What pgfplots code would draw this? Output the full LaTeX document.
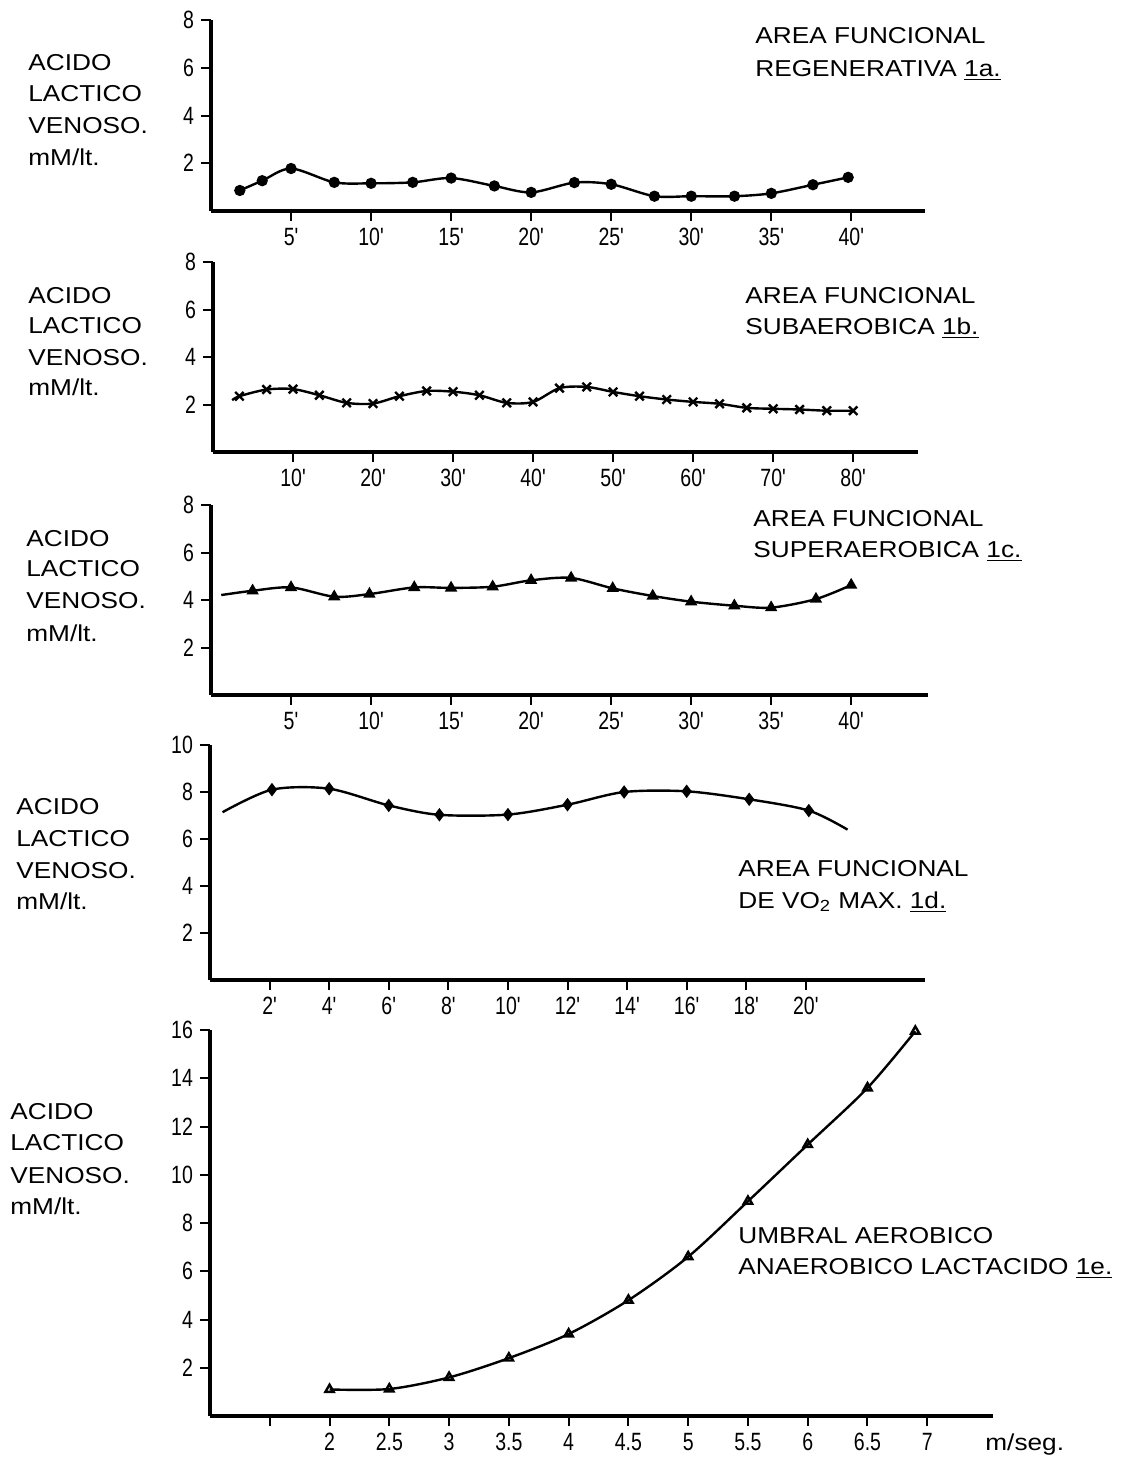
\documentclass[border=0pt]{standalone}
\usepackage{pgfplots}
\pgfplotsset{compat=1.18}
\usepackage{fontspec}
\setmainfont{Liberation Sans}[FakeStretch=1.14]
\newfontfamily\tickfont{Liberation Sans}[FakeStretch=0.78]
\newcommand{\lbl}[3]{\node[anchor=base west, inner sep=0pt] at (#1pt,#2pt) {#3};}
\pgfplotsset{
  panel/.style={
    anchor=south west, scale only axis,
    axis lines*=left,
    axis line style={line width=1.6pt, black},
    tick align=outside, major tick length=5pt,
    tick style={line width=1pt, black},
    ymin=0,
    ticklabel style={font=\tickfont\fontsize{12.5}{12.5}\selectfont, black},
    clip=false,
    every axis plot/.append style={line width=1.2pt, black},
  }
}
\begin{document}
\begin{tikzpicture}
\useasboundingbox (0,0) rectangle (562pt,-729pt);
\tikzset{every node/.append style={font=\fontsize{11.5}{14}\selectfont}}
% ---------- Panel 1a ----------
\begin{axis}[panel, at={(105.5pt,-105.5pt)}, width=357pt, height=95.5pt,
  xmin=0, xmax=44.6, ymax=8,
  xtick={5,10,15,20,25,30,35,40},
  xticklabels={5',10',15',20',25',30',35',40'},
  ytick={2,4,6,8}, yticklabels={2,4,6,8}]
\addplot[smooth, mark=*, mark size=2.2pt] coordinates {
(1.8,0.86) (3.2,1.27) (5,1.78) (7.7,1.2) (10,1.16) (12.6,1.2) (15,1.38) (17.7,1.05)
(20,0.78) (22.7,1.19) (25,1.12) (27.7,0.62) (30,0.62) (32.7,0.62) (35,0.74) (37.6,1.1) (39.8,1.41)};
\end{axis}
% ---------- Panel 1b ----------
\begin{axis}[panel, at={(106.5pt,-226pt)}, width=352.5pt, height=95pt,
  xmin=0, xmax=88.1, ymax=8,
  xtick={10,20,30,40,50,60,70,80},
  xticklabels={10',20',30',40',50',60',70',80'},
  ytick={2,4,6,8}, yticklabels={2,4,6,8}]
\addplot[smooth, mark=x, mark size=3pt, mark indices={2,...,25}] coordinates {
(2.4,2.18) (3.3,2.35) (6.7,2.63) (10,2.65) (13.3,2.39) (16.7,2.07) (20,2.04) (23.3,2.35)
(26.7,2.57) (30,2.54) (33.3,2.39) (36.7,2.07) (40,2.11) (43.3,2.69) (46.7,2.74) (50,2.53)
(53.3,2.35) (56.7,2.21) (60,2.11) (63.3,2.03) (66.7,1.86) (70,1.82) (73.3,1.79) (76.7,1.74) (80,1.74)};
\end{axis}
% ---------- Panel 1c ----------
\begin{axis}[panel, at={(105.5pt,-347.5pt)}, width=358.5pt, height=95pt,
  xmin=0, xmax=44.8, ymax=8,
  xtick={5,10,15,20,25,30,35,40},
  xticklabels={5',10',15',20',25',30',35',40'},
  ytick={2,4,6,8}, yticklabels={2,4,6,8}]
\addplot[smooth, mark=triangle*, mark size=2.4pt, mark indices={2,...,17}] coordinates {
(0.64,4.21) (2.6,4.39) (5,4.53) (7.7,4.14) (9.9,4.25) (12.7,4.53) (15,4.51) (17.6,4.56)
(20,4.83) (22.5,4.93) (25.1,4.49) (27.6,4.17) (30,3.93) (32.7,3.76) (35,3.68) (37.8,4.04) (40,4.63)};
\end{axis}
% ---------- Panel 1d ----------
\begin{axis}[panel, at={(105pt,-490pt)}, width=357.5pt, height=117.5pt,
  xmin=0, xmax=24, ymax=10,
  xtick={2,4,6,8,10,12,14,16,18,20},
  xticklabels={2',4',6',8',10',12',14',16',18',20'},
  ytick={2,4,6,8,10}, yticklabels={2,4,6,8,10}]
\addplot[smooth, mark=diamond*, mark size=2.4pt, mark indices={2,...,11}] coordinates {
(0.42,7.14) (2.08,8.1) (4,8.14) (6,7.43) (7.7,7.03) (10,7.04) (12,7.46) (13.9,8.0)
(16,8.03) (18.1,7.69) (20.1,7.21) (21.4,6.4)};
\end{axis}
% ---------- Panel 1e ----------
\begin{axis}[panel, at={(105pt,-708pt)}, width=391.5pt, height=193pt,
  xmin=1, xmax=7.55, ymax=16,
  xtick={1.5,2,2.5,3,3.5,4,4.5,5,5.5,6,6.5,7},
  xticklabels={,2,2.5,3,3.5,4,4.5,5,5.5,6,6.5,7},
  ytick={2,4,6,8,10,12,14,16}, yticklabels={2,4,6,8,10,12,14,16}]
\addplot[smooth, mark=triangle, mark size=2.4pt] coordinates {
(2,1.1) (2.5,1.12) (3,1.6) (3.5,2.4) (4,3.4) (4.5,4.8) (5,6.6) (5.5,8.9)
(6,11.25) (6.5,13.6) (6.9,15.95)};
\end{axis}
% ---------- texts ----------
\lbl{14}{-35}{ACIDO}
\lbl{14}{-50.5}{LACTICO}
\lbl{14}{-66.5}{VENOSO.}
\lbl{14}{-82.5}{mM/lt.}
\lbl{377.5}{-21.5}{AREA FUNCIONAL}
\lbl{377.5}{-38}{REGENERATIVA \underline{1a.}}
\lbl{14}{-151.5}{ACIDO}
\lbl{14}{-166.5}{LACTICO}
\lbl{14}{-182.5}{VENOSO.}
\lbl{14}{-197.5}{mM/lt.}
\lbl{372.5}{-151.5}{AREA FUNCIONAL}
\lbl{372.5}{-167}{SUBAEROBICA \underline{1b.}}
\lbl{13}{-273}{ACIDO}
\lbl{13}{-288}{LACTICO}
\lbl{13}{-304}{VENOSO.}
\lbl{13}{-320.5}{mM/lt.}
\lbl{376.5}{-263}{AREA FUNCIONAL}
\lbl{376.5}{-278.5}{SUPERAEROBICA \underline{1c.}}
\lbl{8}{-407}{ACIDO}
\lbl{8}{-423}{LACTICO}
\lbl{8}{-439}{VENOSO.}
\lbl{8}{-454.5}{mM/lt.}
\lbl{369}{-438}{AREA FUNCIONAL}
\lbl{369}{-454}{DE VO\textsubscript{2} MAX. \underline{1d.}}
\lbl{5}{-559.5}{ACIDO}
\lbl{5}{-575}{LACTICO}
\lbl{5}{-591.5}{VENOSO.}
\lbl{5}{-607}{mM/lt.}
\lbl{369}{-621.5}{UMBRAL AEROBICO}
\lbl{369}{-637}{ANAEROBICO LACTACIDO \underline{1e.}}
\lbl{492.5}{-725}{m/seg.}
\end{tikzpicture}
\end{document}
